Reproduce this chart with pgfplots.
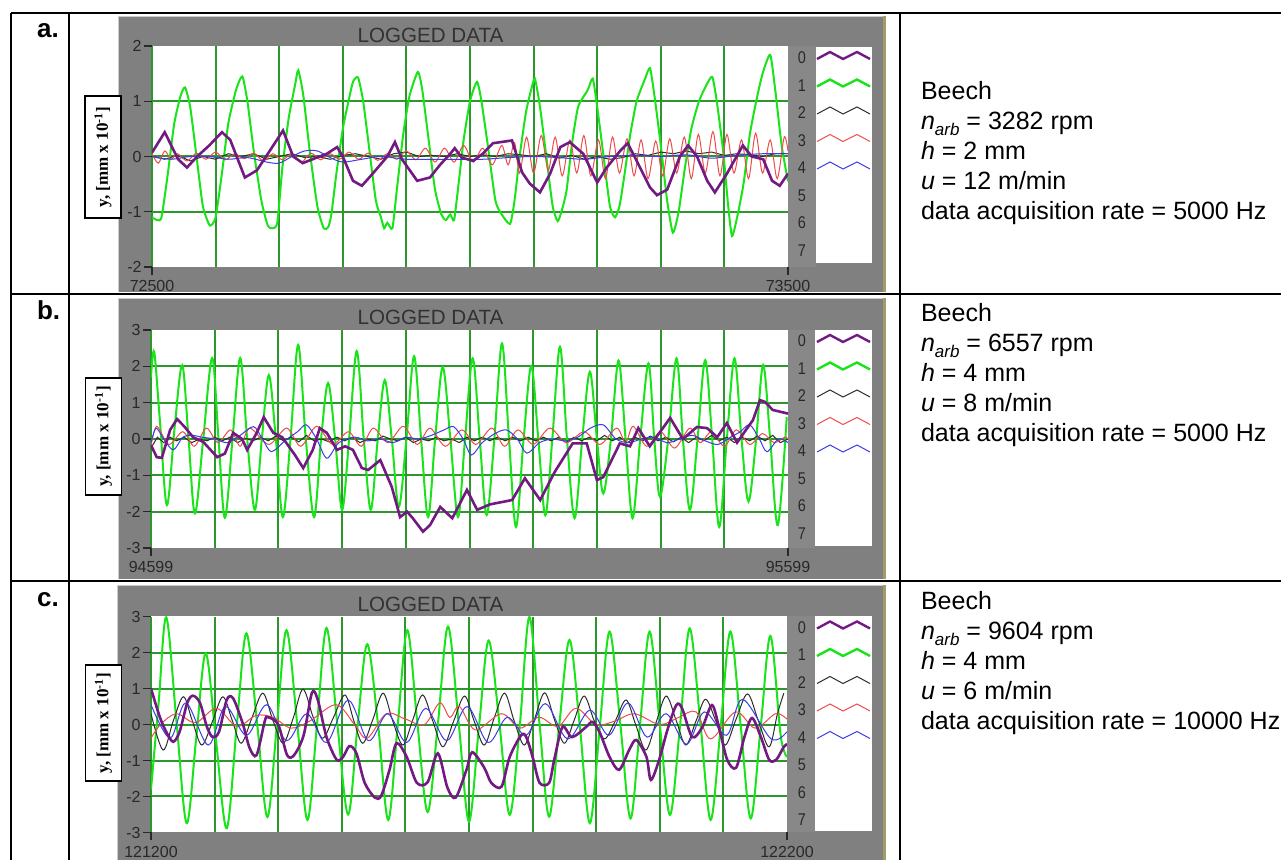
\documentclass[border=0pt]{standalone}
\usepackage{fontspec}
\setmainfont{Liberation Sans}
\newfontfamily\lserif{Liberation Serif}
\usepackage{pgfplots}
\pgfplotsset{compat=1.18}
\definecolor{panelgray}{RGB}{128,128,128}
\definecolor{leggray}{RGB}{136,136,136}
\definecolor{oliveedge}{RGB}{165,155,100}
\definecolor{gridgreen}{RGB}{45,150,45}
\definecolor{cpurple}{RGB}{115,25,130}
\definecolor{cgreen}{RGB}{25,228,25}
\definecolor{cblack}{RGB}{45,45,45}
\definecolor{cred}{RGB}{240,75,75}
\definecolor{cblue}{RGB}{60,60,235}
\definecolor{tickc}{RGB}{40,40,40}
\definecolor{titlec}{RGB}{50,50,50}

\pgfplotsset{
  logged/.style={
    scale only axis,
    axis line style={draw=none},
    tickpos=left,
    tick align=outside,
    major tick length=4pt,
    minor tick length=0pt,
    major tick style={draw=tickc, line width=0.6pt},
    xmajorgrids=false, ymajorgrids=false,
    xminorgrids=true, yminorgrids=true,
    minor grid style={draw=gridgreen, line width=1pt},
    scaled x ticks=false, scaled y ticks=false,
    ticklabel style={font=\fontsize{8}{9}\selectfont, text=tickc},
    yticklabel style={inner sep=1pt},
    xticklabel style={inner sep=0pt, yshift=-2.5pt},
    clip=true,
    no markers,
  },
  purp/.style={cpurple, line width=1.3pt},
  grn/.style={cgreen, line width=1pt},
  blk/.style={cblack, line width=0.5pt},
  rd/.style={cred, line width=0.5pt},
  blu/.style={cblue, line width=0.5pt},
}

\newcommand{\legendcol}[1]{%
  \foreach \k in {0,...,7} {\node[font=\fontsize{8.5}{9}\selectfont, text=tickc, xscale=0.85] at (802,#1+27.5*\k) {\k};}
  \draw[cpurple, line width=1.2pt] (817,#1+1) -- (830,#1-6) -- (843,#1+1) -- (857,#1-6) -- (870,#1+1);
  \draw[cgreen, line width=1.2pt] (817,#1+28.5) -- (830,#1+21.5) -- (843,#1+28.5) -- (857,#1+21.5) -- (870,#1+28.5);
  \draw[cblack, line width=0.5pt] (817,#1+56) -- (830,#1+49) -- (843,#1+56) -- (857,#1+49) -- (870,#1+56);
  \draw[cred, line width=0.5pt] (817,#1+83.5) -- (830,#1+76.5) -- (843,#1+83.5) -- (857,#1+76.5) -- (870,#1+83.5);
  \draw[cblue, line width=0.5pt] (817,#1+111) -- (830,#1+104) -- (843,#1+111) -- (857,#1+104) -- (870,#1+111);
}
\newcommand{\ylab}[3]{%
  \node[draw=black, fill=white, line width=0.6pt, rotate=90, minimum width=#3, minimum height=18pt, inner sep=0pt,
        font=\lserif\bfseries\fontsize{8.5}{10}\selectfont] at (#1,#2) {y, [mm x 10\textsuperscript{-1}]};
}
\newcommand{\rtext}[5]{%
  \node[anchor=base west, font=\fontsize{12.5}{15}\selectfont] at (914,#1) {Beech};
  \node[anchor=base west, font=\fontsize{12.5}{15}\selectfont] at (914,#1+30) {\textit{n}\raisebox{-0.22em}{\fontsize{8.5}{9}\selectfont\textit{arb}} = #2 rpm};
  \node[anchor=base west, font=\fontsize{12.5}{15}\selectfont] at (914,#1+60) {\textit{h} = #3 mm};
  \node[anchor=base west, font=\fontsize{12.5}{15}\selectfont] at (914,#1+90) {\textit{u} = #4 m/min};
  \node[anchor=base west, font=\fontsize{12.5}{15}\selectfont] at (914,#1+120) {data acquisition rate = #5 Hz};
}

\begin{document}
\begin{tikzpicture}
\useasboundingbox (0,0) rectangle (640.5pt,-430pt);
\clip (0,0) rectangle (640.5pt,-430pt);
\begin{scope}[x=0.5pt,y=-0.5pt]
  % gray panels
  \fill[panelgray] (118,16) rectangle (884,292);
  \fill[panelgray] (118,298) rectangle (884,579);
  \fill[panelgray] (117,585) rectangle (884,870);
  \draw[gray!40, line width=0.5pt] (118,292) -- (118,16.5) -- (884,16.5);
  \draw[gray!40, line width=0.5pt] (118,579) -- (118,298.5) -- (884,298.5);
  \draw[gray!40, line width=0.5pt] (117,870) -- (117,585.5) -- (884,585.5);
  \draw[oliveedge, line width=1.2pt] (884.5,16) -- (884.5,292);
  \draw[oliveedge, line width=1.2pt] (884.5,298) -- (884.5,579);
  \draw[oliveedge, line width=1.2pt] (884.5,585) -- (884.5,870);
  % plot areas
  \fill[white] (152,46) rectangle (788,267);
  \fill[white] (151,330) rectangle (788,548);
  \fill[white] (151,616.5) rectangle (787,832.5);
  % legend columns
  \fill[leggray] (788,46) rectangle (816,267);
  \fill[white] (816,47) rectangle (872,263);
  \fill[leggray] (788,330) rectangle (815,548);
  \fill[white] (815,330) rectangle (872,546);
  \fill[leggray] (787,616.5) rectangle (815,832.5);
  \fill[white] (815,616.5) rectangle (872,831.5);
\end{scope}

% ---------------- panel a ----------------
\begin{axis}[logged, at={(76pt,-133.5pt)}, anchor=south west, width=318pt, height=110.5pt,
  xmin=72500, xmax=73500, ymin=-2, ymax=2,
  xtick={72500,73500}, xticklabels={72500,73500},
  minor xtick={72500,72600,72700,72800,72900,73000,73100,73200,73300,73400},
  ytick={-2,-1,0,1,2}, yticklabels={-2,-1,0,1,2}, minor ytick={-1,0,1}]
\addplot[grn, smooth, tension=0.35] coordinates {(72500,-1.1)(72508,-1.15)(72515,-1.1)(72525,-0.3)(72535,0.6)(72545,1.1)(72552,1.25)(72560,0.9)(72570,0)(72580,-0.9)(72591,-1.25)(72600,-1.1)(72610,-0.3)(72620,0.6)(72632,1.2)(72642,1.45)(72650,1.0)(72660,0.1)(72672,-0.8)(72682,-1.25)(72689,-1.3)(72697,-1.2)(72705,-0.2)(72715,0.7)(72725,1.3)(72730,1.56)(72738,1.1)(72748,0.1)(72760,-0.9)(72770,-1.3)(72777,-1.28)(72782,-1.05)(72790,-0.3)(72800,0.5)(72808,0.95)(72816,1.35)(72824,1.43)(72832,1.0)(72842,0.1)(72852,-0.8)(72860,-1.1)(72865,-1.3)(72870,-1.2)(72878,-1.3)(72885,-0.6)(72895,0.4)(72905,1.1)(72918,1.53)(72925,1.2)(72935,0.3)(72945,-0.6)(72955,-1.05)(72962,-1.15)(72969,-1.05)(72975,-1.15)(72982,-0.5)(72990,0.3)(73000,1.0)(73011,1.35)(73018,1.0)(73028,0.2)(73040,-0.8)(73050,-1.05)(73063,-1.22)(73070,-0.8)(73078,0.0)(73088,0.8)(73096,1.2)(73102,1.41)(73110,0.9)(73120,0.0)(73130,-0.9)(73138,-1.17)(73145,-0.95)(73152,-0.6)(73160,0.2)(73170,0.9)(73185,1.2)(73193,1.41)(73200,0.9)(73210,0.0)(73220,-0.9)(73228,-1.1)(73235,-0.9)(73242,-0.4)(73252,0.4)(73262,1.0)(73275,1.4)(73283,1.6)(73290,1.1)(73300,0.2)(73310,-0.8)(73319,-1.38)(73328,-1.0)(73338,-0.2)(73348,0.5)(73360,1.0)(73372,1.3)(73381,1.44)(73388,1.0)(73398,0.1)(73406,-0.9)(73412,-1.44)(73420,-1.1)(73430,-0.5)(73440,0.4)(73450,1.0)(73460,1.5)(73472,1.84)(73480,1.2)(73490,0.2)(73500,-0.45)};
\addplot[blk] coordinates {(72500,0.0)(72520,-0.05)(72540,0.02)(72560,-0.08)(72580,0.0)(72600,-0.05)(72620,0.05)(72640,0.0)(72660,0.05)(72680,-0.05)(72700,0.0)(72720,0.05)(72740,-0.02)(72760,0.0)(72780,-0.05)(72800,0.02)(72820,0.05)(72840,0.0)(72860,-0.05)(72880,0.05)(72900,0.08)(72920,0.0)(72940,0.02)(72960,0.0)(72980,0.05)(73000,0.0)(73020,0.03)(73040,0.0)(73060,0.05)(73080,0.03)(73100,0.0)(73120,0.05)(73140,-0.03)(73160,0.02)(73180,-0.05)(73200,0.0)(73220,-0.05)(73240,-0.02)(73260,0.05)(73280,0.02)(73300,0.08)(73320,0.05)(73340,0.1)(73360,0.05)(73380,0.08)(73400,0.02)(73420,0.05)(73440,0.03)(73460,0.0)(73480,0.05)(73500,0.05)};
\addplot[rd, smooth, tension=0.5] coordinates {(72500,0.05)(72510,-0.12)(72520,0.1)(72530,-0.05)(72540,0.05)(72555,-0.08)(72570,0.06)(72585,-0.05)(72600,0.08)(72615,-0.06)(72630,0.05)(72645,-0.04)(72660,0.06)(72675,-0.08)(72690,0.05)(72705,-0.06)(72720,0.05)(72735,-0.1)(72750,0.06)(72765,-0.06)(72780,0.05)(72795,-0.05)(72810,0.08)(72825,-0.05)(72840,0.06)(72855,-0.07)(72870,0.05)(72885,-0.05)(72900,0.1)(72915,-0.06)(72930,0.15)(72945,-0.1)(72960,0.15)(72975,-0.1)(72990,0.2)(73005,-0.1)(73020,0.15)(73035,-0.15)(73050,0.2)(73060,-0.15)(73070,0.25)(73078,-0.3)(73089,0.35)(73100,-0.3)(73112,0.38)(73123,-0.25)(73134,0.35)(73145,-0.35)(73157,0.3)(73168,-0.3)(73179,0.38)(73190,-0.35)(73202,0.3)(73213,-0.4)(73224,0.35)(73235,-0.3)(73247,0.32)(73258,-0.35)(73269,0.3)(73280,-0.4)(73292,0.28)(73303,-0.35)(73314,0.32)(73325,-0.3)(73337,0.35)(73348,-0.4)(73359,0.4)(73370,-0.3)(73382,0.45)(73393,-0.35)(73404,0.4)(73415,-0.3)(73427,0.3)(73438,-0.4)(73449,0.42)(73460,-0.3)(73472,0.3)(73483,-0.4)(73494,0.35)(73500,0.1)};
\addplot[blu, smooth] coordinates {(72500,0.0)(72530,-0.05)(72560,0.0)(72590,0.0)(72620,-0.05)(72650,-0.02)(72680,-0.1)(72700,-0.12)(72720,0.0)(72740,0.1)(72760,0.1)(72780,-0.02)(72800,-0.1)(72830,-0.05)(72860,0.0)(72900,-0.05)(72940,-0.05)(72980,-0.05)(73020,-0.05)(73060,-0.02)(73100,0.0)(73140,-0.02)(73180,-0.05)(73220,0.0)(73260,0.02)(73300,0.0)(73340,0.03)(73380,-0.03)(73420,0.02)(73460,0.05)(73500,0.05)};
\addplot[purp] coordinates {(72500,0.07)(72520,0.44)(72541,-0.05)(72555,-0.2)(72571,0.0)(72590,0.2)(72610,0.44)(72623,0.3)(72646,-0.38)(72665,-0.25)(72685,0.1)(72706,0.47)(72722,0.0)(72737,-0.12)(72759,-0.02)(72775,0.05)(72791,0.17)(72800,0.0)(72816,-0.44)(72830,-0.53)(72847,-0.31)(72870,0.0)(72882,0.26)(72893,-0.05)(72917,-0.44)(72937,-0.38)(72953,-0.15)(72969,0.05)(72976,0.15)(72987,-0.02)(73005,-0.08)(73020,0.05)(73036,0.24)(73066,0.29)(73082,-0.29)(73094,-0.49)(73110,-0.65)(73126,-0.31)(73142,0.17)(73157,0.26)(73178,0.05)(73200,-0.47)(73215,-0.2)(73236,0.1)(73248,0.24)(73263,-0.1)(73283,-0.56)(73294,-0.7)(73310,-0.6)(73330,0.0)(73343,0.2)(73357,0.0)(73373,-0.44)(73385,-0.65)(73404,-0.31)(73429,0.2)(73443,0.0)(73461,-0.05)(73475,-0.44)(73487,-0.53)(73500,-0.31)};
\end{axis}

% ---------------- panel b ----------------
\begin{axis}[logged, at={(75.5pt,-274pt)}, anchor=south west, width=318.5pt, height=109pt,
  xmin=94599, xmax=95599, ymin=-3, ymax=3,
  xtick={94599,95599}, xticklabels={94599,95599},
  minor xtick={94599,94699,94799,94899,94999,95099,95199,95299,95399,95499},
  ytick={-3,-2,-1,0,1,2,3}, yticklabels={-3,-2,-1,0,1,2,3}, minor ytick={-2,-1,0,1,2}]
\addplot[grn, smooth, tension=0.55] coordinates {(94599,1.7)(94604,2.4)(94613,0.5)(94624,-1.82)(94636,0.3)(94648,2.03)(94658,0)(94668,-2.05)(94681,0)(94695,2.23)(94705,0)(94715,-2.17)(94727,0)(94739,2.23)(94750,0)(94762,-1.95)(94773,0)(94784,1.76)(94795,0)(94806,-2.15)(94818,0)(94830,2.59)(94842,0)(94855,-2.15)(94866,0)(94877,1.54)(94888,0)(94899,-1.95)(94910,0)(94922,2.42)(94933,0)(94944,-1.95)(94955,0)(94966,1.62)(94977,0)(94988,-1.87)(95000,0)(95012,2.28)(95023,0)(95034,-2.15)(95045,0)(95057,1.98)(95069,0)(95081,-2.15)(95092,0)(95104,2.22)(95115,0)(95126,-2.09)(95138,0)(95150,2.63)(95161,0)(95172,-2.42)(95184,0)(95196,2.01)(95207,0)(95218,-2.1)(95229,0)(95241,2.54)(95252,0)(95264,-2.18)(95276,0)(95288,1.85)(95299,0)(95309,-1.5)(95321,0)(95333,2.16)(95344,0)(95355,-2.18)(95367,0)(95380,2.08)(95389,0)(95398,-1.59)(95411,0)(95424,2.22)(95434,0)(95445,-1.95)(95457,0)(95469,2.17)(95480,0)(95491,-2.42)(95503,0)(95515,2.22)(95526,0)(95537,-1.72)(95549,0)(95560,2.04)(95571,0)(95583,-2.37)(95597,0.6)};
\addplot[blk] coordinates {(94599,-0.25)(94609,0.05)(94619,-0.1)(94629,0.05)(94639,-0.05)(94651,0.05)(94663,-0.1)(94675,0.0)(94687,-0.05)(94699,0.05)(94711,-0.05)(94723,0.05)(94735,-0.1)(94747,0.02)(94759,-0.05)(94771,0.05)(94783,-0.05)(94795,0.08)(94807,-0.05)(94819,0.05)(94831,-0.08)(94843,0.1)(94855,-0.05)(94867,0.0)(94879,-0.08)(94891,0.05)(94903,-0.05)(94915,0.05)(94927,-0.1)(94939,0.0)(94951,-0.05)(94963,0.08)(94975,0.0)(94987,-0.05)(94999,0.05)(95011,-0.1)(95023,0.0)(95035,-0.05)(95047,0.05)(95059,-0.05)(95071,0.0)(95083,-0.1)(95095,0.05)(95107,-0.05)(95119,0.05)(95131,-0.05)(95143,0.05)(95155,-0.05)(95167,0.05)(95179,-0.05)(95191,0.05)(95203,-0.05)(95215,0.05)(95227,-0.05)(95239,0.05)(95251,-0.1)(95263,0.05)(95275,-0.05)(95287,0.05)(95299,-0.05)(95311,0.1)(95323,-0.05)(95335,0.05)(95347,-0.1)(95359,0.05)(95371,-0.05)(95383,0.08)(95395,-0.05)(95407,0.05)(95419,-0.08)(95431,0.05)(95443,-0.1)(95455,0.05)(95467,-0.05)(95479,0.1)(95491,-0.05)(95503,0.05)(95515,-0.1)(95527,0.05)(95539,-0.05)(95551,0.08)(95563,-0.05)(95575,0.1)(95587,-0.1)(95599,0.0)};
\addplot[rd, smooth, tension=0.5] coordinates {(94599,-0.2)(94608,0.35)(94627,-0.15)(94649,0.2)(94667,-0.2)(94686,0.3)(94704,-0.1)(94724,0.25)(94739,-0.2)(94754,0.3)(94784,-0.15)(94812,0.3)(94834,-0.2)(94859,0.35)(94884,-0.15)(94909,0.2)(94929,-0.2)(94948,0.3)(94971,-0.1)(94995,0.35)(95017,-0.15)(95037,0.3)(95061,-0.2)(95087,0.25)(95109,-0.15)(95134,0.3)(95154,-0.2)(95175,0.25)(95199,-0.15)(95225,0.3)(95251,-0.1)(95279,0.2)(95304,-0.15)(95330,0.3)(95344,-0.1)(95356,0.35)(95377,-0.2)(95399,0.2)(95421,-0.25)(95445,0.3)(95461,-0.1)(95479,0.2)(95499,-0.2)(95518,0.25)(95539,-0.15)(95559,0.15)(95577,-0.1)(95594,0.05)(95599,0.0)};
\addplot[blu, smooth, tension=0.5] coordinates {(94599,-0.1)(94607,0.3)(94619,0.0)(94634,-0.3)(94649,0.05)(94664,0.1)(94679,0.05)(94699,0.0)(94719,-0.1)(94739,0.1)(94760,0.34)(94774,0.0)(94788,-0.35)(94809,-0.05)(94829,0.2)(94843,0.39)(94859,0.0)(94875,-0.53)(94894,-0.1)(94919,0.05)(94939,-0.05)(94959,0.0)(94979,-0.1)(94999,0.05)(95019,0.0)(95039,0.1)(95059,0.25)(95074,0.34)(95089,0.0)(95102,-0.44)(95119,-0.1)(95139,0.15)(95157,0.25)(95174,0.0)(95189,-0.39)(95209,-0.1)(95229,0.0)(95249,-0.05)(95269,0.05)(95289,0.3)(95309,0.39)(95329,0.0)(95349,-0.1)(95369,0.0)(95389,0.05)(95409,-0.1)(95429,0.0)(95449,0.1)(95469,-0.05)(95489,-0.15)(95509,0.05)(95524,0.2)(95539,0.39)(95554,0.0)(95566,-0.35)(95584,0.0)(95599,-0.1)};
\addplot[purp] coordinates {(94599,-0.17)(94608,-0.5)(94616,-0.52)(94629,0.25)(94640,0.55)(94652,0.33)(94665,0.05)(94681,-0.08)(94703,-0.5)(94715,-0.4)(94728,0.17)(94742,0.0)(94750,-0.3)(94765,0.17)(94776,0.6)(94791,0.17)(94805,0.05)(94825,-0.44)(94838,-0.8)(94853,-0.3)(94864,0.3)(94875,0.17)(94891,-0.3)(94904,-0.2)(94916,-0.3)(94930,-0.8)(94940,-0.85)(94959,-0.58)(94977,-1.32)(94990,-2.15)(95001,-2.0)(95010,-2.18)(95026,-2.55)(95037,-2.37)(95053,-1.87)(95072,-2.18)(95095,-1.4)(95111,-1.95)(95131,-1.8)(95166,-1.68)(95186,-1.08)(95210,-1.68)(95233,-0.9)(95261,-0.12)(95283,-0.12)(95299,-1.13)(95309,-1.05)(95335,-0.12)(95351,-0.2)(95364,0.3)(95382,-0.2)(95414,0.58)(95434,0.0)(95456,0.33)(95472,0.3)(95488,0.05)(95503,0.44)(95519,-0.1)(95533,0.25)(95544,0.52)(95555,1.07)(95563,1.02)(95575,0.8)(95594,0.72)(95599,0.7)};
\end{axis}

% ---------------- panel c ----------------
\begin{axis}[logged, at={(75.5pt,-416.25pt)}, anchor=south west, width=318pt, height=108pt,
  xmin=121200, xmax=122200, ymin=-3, ymax=3,
  xtick={121200,122200}, xticklabels={121200,122200},
  minor xtick={121200,121300,121400,121500,121600,121700,121800,121900,122000,122100},
  ytick={-3,-2,-1,0,1,2,3}, yticklabels={-3,-2,-1,0,1,2,3}, minor ytick={-2,-1,0,1,2}]
\addplot[grn, smooth, tension=0.55] coordinates {(121200,-1.8)(121212,0.6)(121224,2.98)(121240,0.1)(121256,-2.74)(121271,-0.4)(121286,1.98)(121302,-0.4)(121319,-2.88)(121335,0)(121350,2.53)(121367,0)(121383,-2.57)(121398,0)(121413,2.62)(121430,0)(121446,-2.65)(121461,0)(121476,2.68)(121493,0)(121510,-2.5)(121525,0)(121540,2.23)(121557,0)(121573,-2.65)(121588,0)(121603,2.62)(121619,0)(121635,-2.43)(121651,0)(121667,2.72)(121684,0)(121700,-2.7)(121716,0)(121731,2.33)(121748,0)(121764,-2.51)(121780,0)(121795,2.99)(121811,0)(121826,-2.56)(121842,0)(121858,2.35)(121874,0)(121890,-2.74)(121906,0)(121921,2.58)(121938,0)(121954,-2.61)(121969,0)(121984,2.58)(122000,0)(122016,-2.51)(122032,0)(122047,2.67)(122064,0)(122080,-2.65)(122096,0)(122111,2.58)(122127,0)(122143,-2.61)(122159,0)(122174,2.46)(122190,-0.3)(122200,-0.9)};
\addplot[blk, smooth, tension=0.55] coordinates {(121200,0.3)(121219,-0.71)(121235,0.1)(121251,0.77)(121265,0.1)(121280,-0.57)(121297,0.1)(121313,0.77)(121328,0.1)(121342,-0.52)(121359,0.2)(121376,0.87)(121392,0.1)(121408,-0.52)(121424,0.2)(121439,0.98)(121455,0.2)(121470,-0.38)(121487,0.2)(121505,0.82)(121519,0.1)(121533,-0.52)(121549,0.15)(121565,0.87)(121580,0.1)(121596,-0.57)(121611,0.1)(121627,0.82)(121643,0.1)(121659,-0.62)(121676,0.1)(121693,0.79)(121708,0.1)(121724,-0.57)(121740,0.2)(121756,0.87)(121771,0.1)(121787,-0.57)(121803,0.15)(121819,0.88)(121835,0.1)(121850,-0.52)(121865,0.1)(121881,0.79)(121897,0.1)(121913,-0.4)(121930,0.1)(121947,0.68)(121962,0.0)(121978,-0.71)(121994,0.05)(122010,0.79)(122026,0.1)(122041,-0.57)(122057,0.1)(122072,0.7)(122088,0.1)(122103,-0.57)(122120,0.15)(122138,0.85)(122155,0.1)(122172,-0.62)(122185,0.3)(122195,0.87)};
\addplot[rd, smooth, tension=0.55] coordinates {(121200,-0.38)(121215,0.0)(121240,0.3)(121270,0.05)(121303,0.45)(121335,-0.05)(121365,0.25)(121392,0.2)(121420,-0.1)(121450,0.1)(121491,0.55)(121520,0.0)(121540,-0.38)(121570,0.3)(121600,0.15)(121630,0.0)(121654,0.6)(121670,0.2)(121685,0.5)(121710,-0.15)(121751,0.3)(121780,-0.1)(121810,0.2)(121840,-0.05)(121868,0.45)(121900,0.0)(121930,0.1)(121960,0.3)(122000,0.0)(122030,0.2)(122057,0.35)(122080,-0.4)(122119,0.35)(122150,-0.1)(122182,0.3)(122200,0.15)};
\addplot[blu, smooth, tension=0.55] coordinates {(121200,0.55)(121230,-0.38)(121255,0.6)(121290,-0.57)(121317,0.5)(121350,-0.3)(121382,0.55)(121413,-0.45)(121445,0.3)(121476,-0.5)(121510,0.68)(121542,-0.45)(121572,0.3)(121602,-0.5)(121632,0.45)(121665,-0.45)(121697,0.5)(121730,-0.5)(121760,0.2)(121790,-0.3)(121820,0.58)(121855,-0.4)(121890,0.4)(121920,-0.3)(121950,0.6)(121980,-0.35)(122010,0.3)(122042,-0.55)(122070,0.35)(122105,-0.3)(122130,0.7)(122175,-0.4)(122200,-0.2)};
\addplot[purp, smooth, tension=0.5] coordinates {(121200,1.0)(121214,0.2)(121225,-0.24)(121235,-0.48)(121245,-0.2)(121257,0.6)(121266,0.8)(121277,0.6)(121288,-0.07)(121297,-0.35)(121307,-0.2)(121319,0.68)(121329,0.73)(121344,0.04)(121355,-0.65)(121366,-0.85)(121379,0.1)(121384,0.2)(121400,0.0)(121414,-0.85)(121425,-0.85)(121440,-0.3)(121453,0.88)(121462,0.7)(121476,-0.35)(121492,-0.98)(121502,-0.9)(121512,-0.6)(121523,-0.8)(121536,-1.62)(121552,-2.03)(121562,-1.98)(121575,-1.26)(121586,-0.52)(121602,-0.9)(121618,-1.62)(121635,-1.6)(121651,-0.8)(121666,-1.75)(121679,-2.03)(121696,-1.26)(121705,-0.77)(121724,-1.2)(121735,-1.62)(121751,-1.73)(121764,-0.9)(121782,-0.3)(121790,-0.35)(121800,-0.9)(121811,-1.62)(121826,-1.62)(121834,-0.98)(121847,-0.07)(121862,-0.35)(121884,-0.07)(121894,0.07)(121905,-0.2)(121921,-0.9)(121936,-1.26)(121952,-0.7)(121963,-0.43)(121979,-0.9)(121986,-1.54)(121999,-0.98)(122012,-0.15)(122026,0.54)(122035,0.45)(122051,-0.35)(122067,-0.07)(122082,0.54)(122093,-0.07)(122106,-0.98)(122120,-1.2)(122133,-0.35)(122145,0.18)(122159,-0.35)(122172,-0.98)(122183,-0.98)(122195,-0.62)(122200,-0.55)};
\end{axis}

\begin{scope}[x=0.5pt,y=-0.5pt]
  % legends
  \legendcol{58}
  \legendcol{341}
  \legendcol{627.5}
  % titles
  \node[anchor=base, font=\fontsize{10.3}{12}\selectfont, text=titlec] at (430.5,42.5) {LOGGED DATA};
  \node[anchor=base, font=\fontsize{10.3}{12}\selectfont, text=titlec] at (430.5,325) {LOGGED DATA};
  \node[anchor=base, font=\fontsize{10.3}{12}\selectfont, text=titlec] at (430.5,612) {LOGGED DATA};
  % y labels
  \ylab{103}{157}{61pt}
  \ylab{103.5}{436.5}{58.5pt}
  \ylab{103.5}{723}{58pt}
  % table lines
  \draw[black, line width=1pt] (10.5,13) -- (1300,13);
  \draw[black, line width=1pt] (10.5,294) -- (1300,294);
  \draw[black, line width=1pt] (10.5,581) -- (1300,581);
  \draw[black, line width=1pt] (10.5,13) -- (10.5,880);
  \draw[black, line width=1pt] (68.5,13) -- (68.5,880);
  \draw[black, line width=1pt] (900,13) -- (900,880);
  % row labels
  \node[anchor=base west, font=\bfseries\fontsize{13}{15}\selectfont] at (30,38) {a.};
  \node[anchor=base west, font=\bfseries\fontsize{13}{15}\selectfont] at (30,320) {b.};
  \node[anchor=base west, font=\bfseries\fontsize{13}{15}\selectfont] at (30,607) {c.};
  % right texts
  \rtext{100}{3282}{2}{12}{5000}
  \rtext{322}{6557}{4}{8}{5000}
  \rtext{610}{9604}{4}{6}{10000}
\end{scope}
\end{tikzpicture}
\end{document}
